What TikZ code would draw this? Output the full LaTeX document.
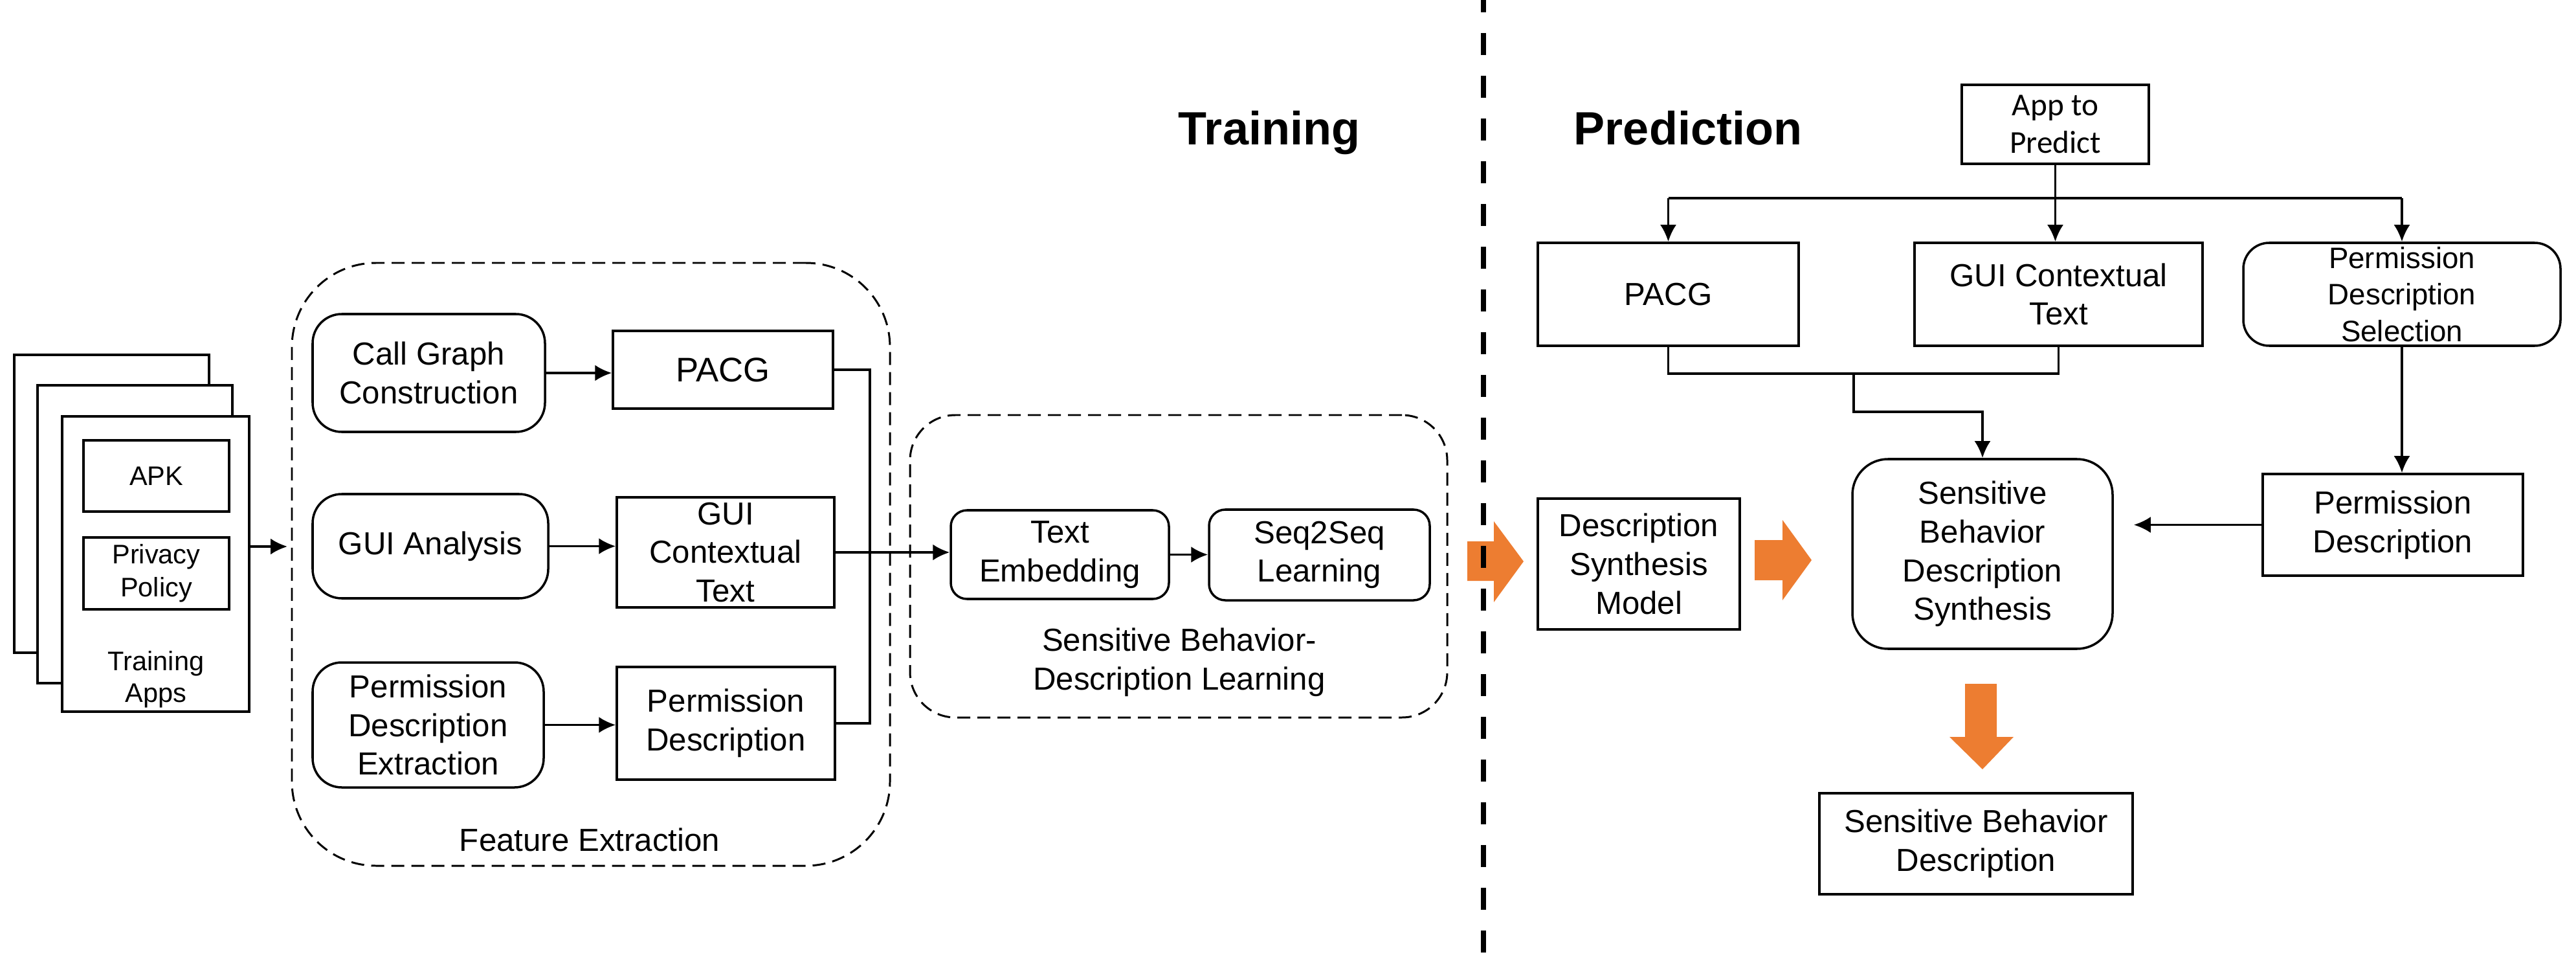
\documentclass[tikz,border=0pt]{standalone}
\usepackage{fontspec}
\setmainfont{Liberation Sans}
\newfontfamily\calibrifont{Carlito}
\usepackage{xcolor}
\usetikzlibrary{arrows.meta}
\definecolor{blockorange}{HTML}{ED7D31}

\begin{document}
\begin{tikzpicture}[x=1cm,y=-1cm,
  box/.style={draw,line width=1pt,fill=white,align=center,inner sep=0pt,font=\fontsize{14}{17}\selectfont},
  rbox/.style={box,rounded corners=0.45cm},
  page/.style={draw,line width=1pt,fill=white,inner sep=0pt},
  grp/.style={draw,line width=0.85pt,dash pattern=on 0.2cm off 0.11cm,inner sep=0pt},
  lbl/.style={align=center,font=\fontsize{14}{17}\selectfont},
  arr/.style={-{Latex[length=0.26cm,width=0.25cm]},line width=1pt},
  wire/.style={line width=1pt}]
\useasboundingbox (0,0) rectangle (39.8,14.81);

% training apps
\node[page,minimum width=3.01cm,minimum height=4.60cm] (page1) at (1.725,7.78) {};
\node[page,minimum width=3.01cm,minimum height=4.60cm] (page2) at (2.085,8.25) {};
\node[page,minimum width=2.89cm,minimum height=4.56cm] (page3) at (2.405,8.71) {};
\node[box,minimum width=2.25cm,minimum height=1.10cm,font=\fontsize{11.8}{14}\selectfont] (apk) at (2.415,7.35) {APK};
\node[box,minimum width=2.25cm,minimum height=1.11cm,font=\fontsize{11.8}{14.5}\selectfont] (pp) at (2.415,8.855) {Privacy\\Policy};
\node[lbl,font=\fontsize{11.8}{14}\selectfont] (tapps) at (2.41,10.49) {Training\\Apps};
\coordinate (featin) at (4.44,8.44);
\draw[arr] (page3.east |- featin) -- (featin);

% feature extraction
\node[grp,minimum width=9.24cm,minimum height=9.31cm,rounded corners=1.3cm] (feat) at (9.13,8.715) {};
\node[rbox,minimum width=3.59cm,minimum height=1.82cm] (cgc) at (6.625,5.76) {Call Graph\\Construction};
\node[box,minimum width=3.40cm,minimum height=1.20cm,font=\fontsize{15}{18}\selectfont] (pacg) at (11.17,5.71) {PACG};
\node[rbox,minimum width=3.64cm,minimum height=1.61cm] (gua) at (6.65,8.435) {GUI Analysis};
\node[box,minimum width=3.36cm,minimum height=1.70cm] (gct) at (11.21,8.53) {GUI\\Contextual\\Text};
\node[rbox,minimum width=3.57cm,minimum height=1.93cm] (pde) at (6.615,11.195) {Permission\\Description\\Extraction};
\node[box,minimum width=3.37cm,minimum height=1.74cm] (pd) at (11.215,11.17) {Permission\\Description};
\node[lbl] (featlbl) at (9.11,12.97) {Feature Extraction};
\draw[arr] (cgc.east) -- (cgc.east -| pacg.west);
\draw[arr] (gua.east) -- (gua.east -| gct.west);
\draw[arr] (pde.east) -- (pde.east -| pd.west);
\coordinate (bus) at (13.44,0);
\draw[wire] (pacg.east) -- (pacg.east -| bus) -- (pd.east -| bus) -- (pd.east);

% description learning
\node[grp,minimum width=8.30cm,minimum height=4.67cm,rounded corners=0.7cm] (lrn) at (18.21,8.745) {};
\node[rbox,rounded corners=0.25cm,minimum width=3.37cm,minimum height=1.37cm] (te) at (16.375,8.565) {Text\\Embedding};
\node[rbox,rounded corners=0.25cm,minimum width=3.41cm,minimum height=1.40cm] (s2s) at (20.385,8.57) {Seq2Seq\\Learning};
\node[lbl] (lrnlbl) at (18.22,10.23) {Sensitive Behavior-\\Description Learning};
\draw[arr] (gct.east) -- (gct.east -| te.west);
\draw[arr] (te.east) -- (te.east -| s2s.west);

% titles
\node[anchor=base,font=\bfseries\fontsize{20.5}{24}\selectfont] (trn) at (19.61,2.24) {Training};
\node[anchor=base,font=\bfseries\fontsize{20.5}{24}\selectfont] (prd) at (26.08,2.24) {Prediction};

% orange block arrows
\fill[blockorange] (22.67,8.36) -- (23.08,8.36) -- (23.08,8.05) -- (23.54,8.67) -- (23.08,9.30) -- (23.08,8.97) -- (22.67,8.97) -- cycle;
\fill[blockorange] (27.11,8.34) -- (27.54,8.34) -- (27.54,8.03) -- (27.99,8.65) -- (27.54,9.27) -- (27.54,8.96) -- (27.11,8.96) -- cycle;
\fill[blockorange] (30.36,10.56) -- (30.85,10.56) -- (30.85,11.38) -- (31.11,11.38) -- (30.63,11.88) -- (30.12,11.38) -- (30.36,11.38) -- cycle;

% divider
\draw[line width=0.08cm,dash pattern=on 0.34cm off 0.32cm,dash phase=0.15cm] (22.92,0) -- (22.92,14.81);

% prediction
\node[box,minimum width=3.12cm,minimum height=2.02cm] (dsm) at (25.32,8.71) {Description\\Synthesis\\Model};
\node[box,minimum width=2.89cm,minimum height=1.22cm,font=\calibrifont\fontsize{14}{16.5}\selectfont] (atp) at (31.755,1.92) {App to\\Predict};
\node[box,minimum width=4.03cm,minimum height=1.59cm] (pacgb) at (25.775,4.545) {PACG};
\node[box,minimum width=4.45cm,minimum height=1.59cm] (gctb) at (31.805,4.545) {GUI Contextual\\Text};
\node[rbox,rounded corners=0.4cm,minimum width=4.90cm,minimum height=1.59cm,font=\fontsize{13}{16}\selectfont] (pds) at (37.11,4.545) {Permission\\Description\\Selection};
\node[rbox,rounded corners=0.55cm,minimum width=4.02cm,minimum height=2.93cm] (sbds) at (30.63,8.555) {Sensitive\\Behavior\\Description\\Synthesis};
\node[box,minimum width=4.02cm,minimum height=1.57cm] (pdb) at (36.97,8.105) {Permission\\Description};
\node[box,minimum width=4.84cm,minimum height=1.56cm] (sbd) at (30.53,13.03) {Sensitive Behavior\\Description};

\coordinate (split) at (0,3.06);
\draw[arr] (atp.south) -- (atp.south |- gctb.north);
\draw[wire] (split -| pacgb.north) -- (split -| pds.north);
\draw[arr] (split -| pacgb.north) -- (pacgb.north);
\draw[arr] (split -| pds.north) -- (pds.north);
\coordinate (merge) at (0,5.77);
\draw[wire] (pacgb.south) -- (merge -| pacgb.south) -- (merge -| gctb.south) -- (gctb.south);
\coordinate (drop) at (28.64,6.36);
\draw[arr] (drop |- merge) -- (drop) -- (drop -| sbds.north) -- (sbds.north);
\draw[arr] (pds.south) -- (pds.south |- pdb.north);
\coordinate (gap) at ([xshift=0.31cm]sbds.east);
\draw[arr] (pdb.west) -- (gap |- pdb.west);
\end{tikzpicture}
\end{document}
